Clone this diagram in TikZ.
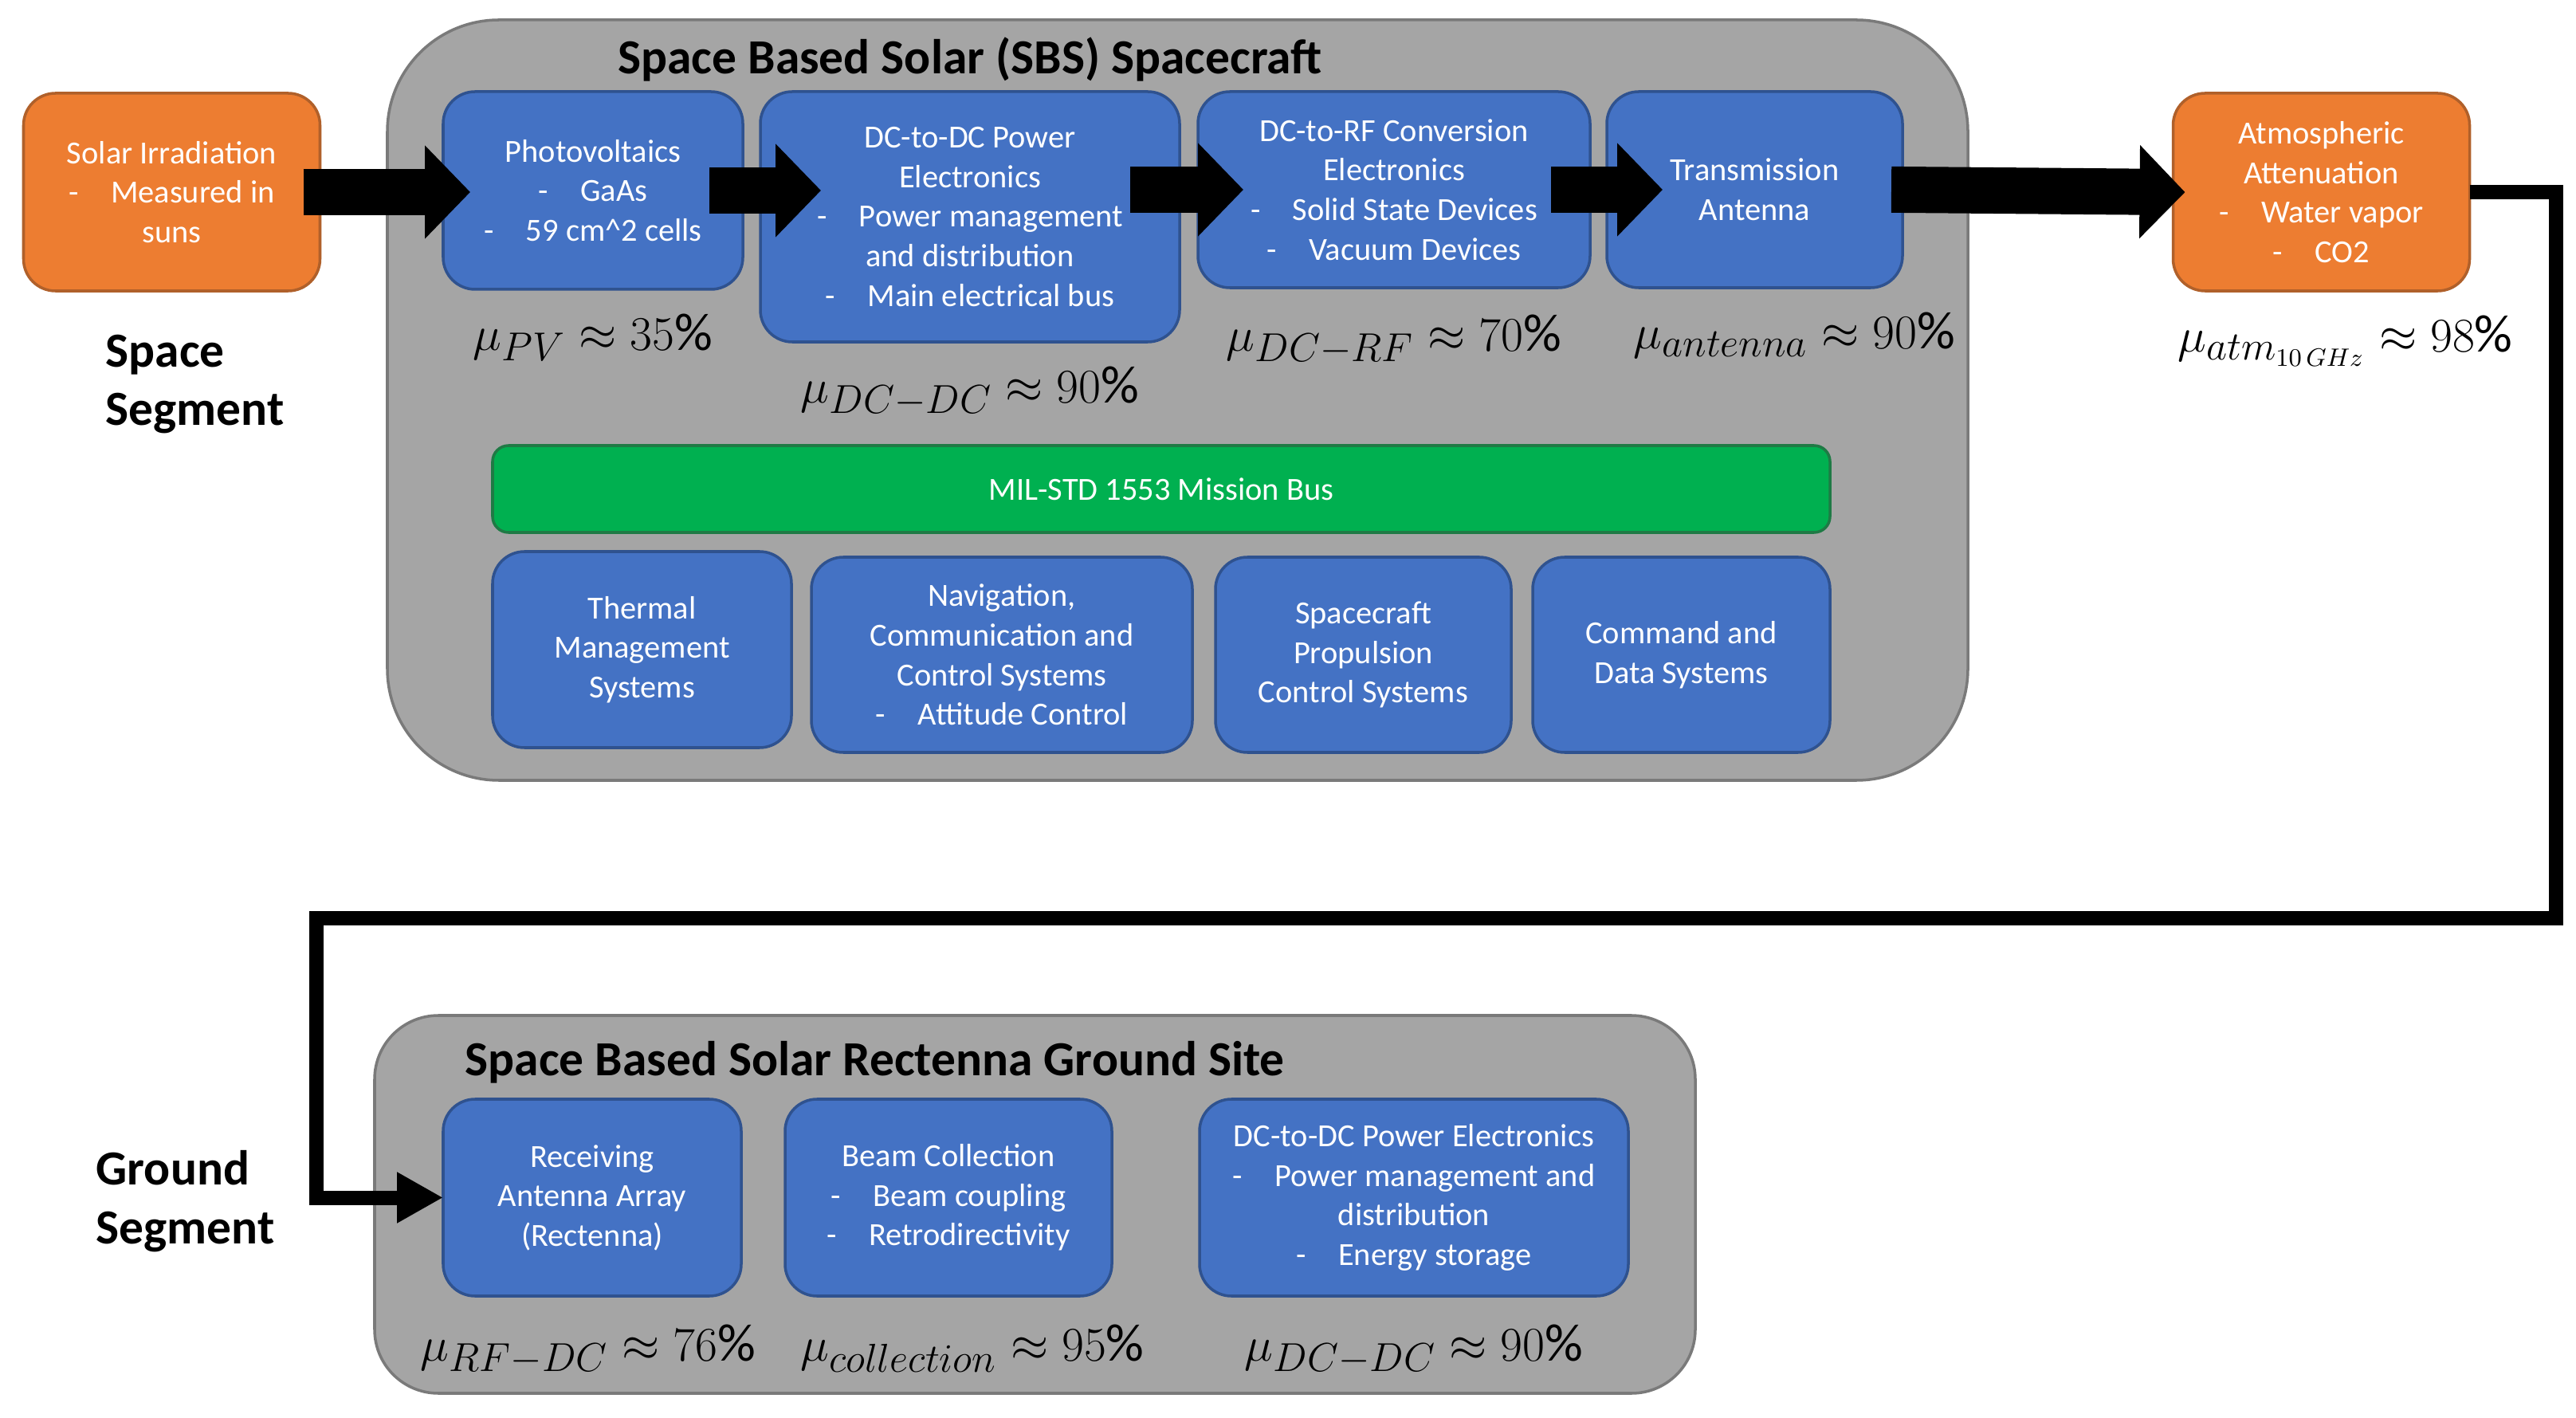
\documentclass[tikz,border=0pt]{standalone}
\usepackage{fontspec}
\setmainfont{Carlito}
\usetikzlibrary{arrows.meta, positioning}
\definecolor{sbsblue}{HTML}{4472C4}
\definecolor{sbsblueedge}{HTML}{2F528F}
\definecolor{sbsorange}{HTML}{ED7D31}
\definecolor{sbsorangeedge}{HTML}{B0602A}
\definecolor{sbsgreen}{HTML}{00B050}
\definecolor{sbsgreenedge}{HTML}{1F7A45}
\definecolor{sbsgray}{HTML}{A5A5A5}
\definecolor{sbsgrayedge}{HTML}{7A7A7A}
\tikzset{
	subsys/.style={draw=sbsblueedge, fill=sbsblue, rounded corners=0.4cm, line width=1pt,
		align=center, text=white, font=\fontsize{11.5}{14.1}\selectfont, inner sep=2pt, outer sep=0pt},
	envbox/.style={subsys, draw=sbsorangeedge, fill=sbsorange,
		minimum width=3.72cm, minimum height=2.48cm},
	busbox/.style={subsys, draw=sbsgreenedge, fill=sbsgreen, rounded corners=0.2cm},
	segbox/.style={draw=sbsgrayedge, fill=sbsgray, line width=1pt, outer sep=0pt},
	seglabel/.style={font=\fontsize{17.5}{21}\selectfont\bfseries, align=left, inner sep=0pt},
	boxtitle/.style={font=\fontsize{17.5}{21}\selectfont\bfseries, inner sep=0pt},
	eff/.style={font=\fontsize{19}{22}\selectfont, inner sep=0pt},
	powarr/.style={-{Triangle[length=0.57cm, width=1.14cm]}, line width=0.58cm},
	linkarr/.style={-{Triangle[length=0.58cm, width=0.6cm]}, line width=0.18cm, line join=miter}
}

\begin{document}
\begin{tikzpicture}[node distance=0.22cm]
	\useasboundingbox (0,0) rectangle (32.32,-17.79);
	% space segment
	\node[segbox, rounded corners=1.4cm, minimum width=19.83cm, minimum height=9.54cm] (sbs) at (14.775,-5.02) {};
	\node[envbox] (solar) at (2.155,-2.41) {Solar Irradiation\\-\hspace{1em}Measured in\\suns};
	\node[subsys, minimum width=3.76cm, minimum height=2.48cm, anchor=north west] (pv) at (5.56,-1.15)
		{Photovoltaics\\-\hspace{1em}GaAs\\-\hspace{1em}59 cm\textasciicircum 2 cells};
	\node[subsys, minimum width=5.26cm, minimum height=3.14cm, right=of pv.north east, anchor=north west] (dcdc)
		{DC-to-DC Power\\Electronics\\-\hspace{1em}Power management\\and distribution\\-\hspace{1em}Main electrical bus};
	\node[subsys, minimum width=4.92cm, minimum height=2.46cm, right=0.23cm of dcdc.north east, anchor=north west] (dcrf)
		{DC-to-RF Conversion\\Electronics\\-\hspace{1em}Solid State Devices\\-\hspace{1em}Vacuum Devices};
	\node[subsys, minimum width=3.71cm, minimum height=2.46cm, right=0.21cm of dcrf.north east, anchor=north west] (trans)
		{Transmission\\Antenna};
	\node[envbox] (atmos) at (29.125,-2.41) {Atmospheric\\Attenuation\\-\hspace{1em}Water vapor\\-\hspace{1em}CO2};
	\node[boxtitle, above=0.12cm of dcdc] (sbstitle) {Space Based Solar (SBS) Spacecraft};
	\node[seglabel, anchor=west] (spaceseg) at (1.32,-4.82) {Space\\Segment};

	\node[eff, below=0.3cm of pv] (effpv) {$\mu_{PV} \approx 35\%$};
	\node[eff, below=0.3cm of dcdc] (effdcdc) {$\mu_{DC-DC} \approx 90\%$};
	\node[eff, below=0.33cm of dcrf] (effdcrf) {$\mu_{DC-RF} \approx 70\%$};
	\node[eff, below=0.3cm of trans, xshift=0.5cm] (effant) {$\mu_{antenna} \approx 90\%$};
	\node[eff, below=0.3cm of atmos, xshift=0.3cm] (effatm) {$\mu_{atm_{10\,GHz}} \approx 98\%$};

	\node[busbox, minimum width=16.78cm, minimum height=1.09cm, anchor=north west] (bus) at (6.18,-5.59)
		{MIL-STD 1553 Mission Bus};
	\node[subsys, minimum width=3.75cm, minimum height=2.46cm, below=0.24cm of bus.south west, anchor=north west] (thermal)
		{Thermal\\Management\\Systems};
	\node[subsys, minimum width=4.78cm, minimum height=2.45cm, right=0.25cm of thermal.north east, anchor=north west, yshift=-0.07cm] (nav)
		{Navigation,\\Communication and\\Control Systems\\-\hspace{1em}Attitude Control};
	\node[subsys, minimum width=3.71cm, minimum height=2.45cm, right=0.29cm of nav.north east, anchor=north west] (prop)
		{Spacecraft\\Propulsion\\Control Systems};
	\node[subsys, minimum width=3.73cm, minimum height=2.45cm, right=0.27cm of prop.north east, anchor=north west] (cmd)
		{Command and\\Data Systems};

	% ground segment
	\node[segbox, rounded corners=0.8cm, minimum width=16.57cm, minimum height=4.74cm] (ground) at (12.985,-15.11) {};
	\node[subsys, minimum width=3.74cm, minimum height=2.47cm, anchor=north west] (receive) at (5.56,-13.79)
		{Receiving\\Antenna Array\\(Rectenna)};
	\node[subsys, minimum width=4.10cm, minimum height=2.47cm, right=0.55cm of receive.north east, anchor=north west] (beam)
		{Beam Collection\\-\hspace{1em}Beam coupling\\-\hspace{1em}Retrodirectivity};
	\node[subsys, minimum width=5.38cm, minimum height=2.47cm, right=1.1cm of beam.north east, anchor=north west] (gdcdc)
		{DC-to-DC Power Electronics\\-\hspace{1em}Power management and\\distribution\\-\hspace{1em}Energy storage};
	\node[boxtitle, anchor=south west] (groundtitle) at ([xshift=0.27cm, yshift=0.19cm]receive.north west)
		{Space Based Solar Rectenna Ground Site};
	\node[seglabel, anchor=west] (groundseg) at (1.2,-15.07) {Ground\\Segment};

	\node[eff, below=0.35cm of receive, xshift=-0.05cm] (effrfdc) {$\mu_{RF-DC} \approx 76\%$};
	\node[eff, below=0.35cm of beam, xshift=0.3cm] (effcoll) {$\mu_{collection} \approx 95\%$};
	\node[eff, below=0.35cm of gdcdc] (effgdcdc) {$\mu_{DC-DC} \approx 90\%$};

	% power flow
	\draw[powarr, shorten <=-0.21cm, shorten >=-0.34cm] (solar.east) -- (solar.east -| pv.west);
	\draw[powarr, shorten <=-0.42cm, shorten >=-0.76cm] (pv.east) -- (pv.east -| dcdc.west);
	\draw[powarr, shorten <=-0.62cm, shorten >=-0.57cm] (dcdc.east |- dcrf.west) -- (dcrf.west);
	\draw[powarr, shorten <=-0.49cm, shorten >=-0.70cm] (dcrf.east) -- (trans.west);
	\draw[powarr, shorten <=-0.14cm, shorten >=-0.15cm] (trans.east) -- (atmos.west);

	\coordinate (bendR) at (32.07,-11.52);
	\coordinate (bendL) at (3.97,-11.52);
	\draw[linkarr] (atmos.east) -| (bendR) -- (bendL) |- (receive.west);
\end{tikzpicture}
\end{document}
